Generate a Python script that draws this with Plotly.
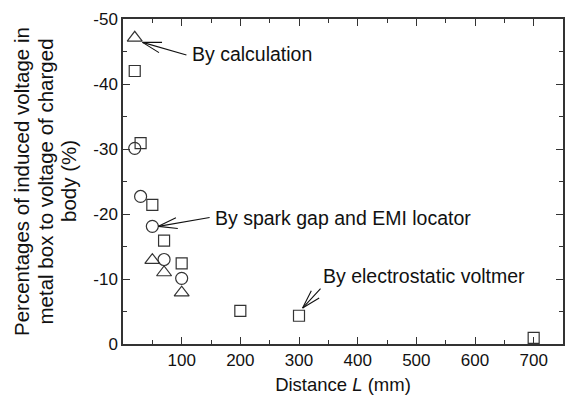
import math
import plotly.graph_objects as go

# ---- data ----
calc_L = [20, 50, 70, 100]
calc_pct = [-47.1, -12.9, -11.0, -7.9]

spark_L = [20, 30, 50, 70, 100]
spark_pct = [-30.1, -22.7, -18.1, -13.0, -10.1]

volt_L = [20, 30, 50, 70, 100, 200, 300, 700]
volt_pct = [-42.0, -30.9, -21.4, -15.9, -12.4, -5.1, -4.35, -0.95]

x_ticks = [100, 200, 300, 400, 500, 600, 700]
y_ticks = [0, -10, -20, -30, -40, -50]
y_ticktext = ["0", "-10", "-20", "-30", "-40", "-50"]

y_title_lines = ["Percentages of induced voltage in",
                 "metal box to voltage of charged",
                 "body (%)"]

FONT = "Arial, Liberation Sans, sans-serif"
EDGE = "#333333"

fig = go.Figure()

def add_series(xs, ys, symbol, size):
    fig.add_trace(go.Scatter(
        x=xs, y=ys, mode="markers", cliponaxis=False,
        marker=dict(symbol=symbol, size=size, color=EDGE,
                    line=dict(color=EDGE, width=1.2)),
        showlegend=False))

add_series(volt_L, volt_pct, "square-open", 11)
add_series(spark_L, spark_pct, "circle-open", 12)
add_series(calc_L, calc_pct, "triangle-up-open", 13)

annotations = []

def arrow(x, y, xs, ys, ax, ay, text, tx, ty):
    base = dict(x=x, y=y, xref="x", yref="y", xshift=xs, yshift=ys, text="",
                showarrow=True, arrowhead=0, arrowwidth=1.1, arrowcolor="#111",
                axref="pixel", ayref="pixel", standoff=0, startstandoff=0,
                font=dict(size=1), borderpad=0)
    annotations.append(dict(base, ax=ax, ay=ay))
    ang = math.atan2(ay, ax)
    L = 20
    for d in (math.radians(16), -math.radians(16)):
        annotations.append(dict(base, ax=L * math.cos(ang + d), ay=L * math.sin(ang + d)))
    annotations.append(dict(x=x, y=y, xref="x", yref="y", xshift=tx, yshift=ty,
                            text=text, showarrow=False, xanchor="left", yanchor="middle",
                            font=dict(family=FONT, size=19.5, color="#111")))

arrow(calc_L[0], calc_pct[0], 7.8, -4.5, 44.4, 12.7, "By calculation", 55.5, -15.9)
arrow(spark_L[2], spark_pct[2], 6.1, 0, 51.7, -9.0, "By spark gap and EMI locator", 61.1, 8.3)
arrow(volt_L[6], volt_pct[6], 3.6, 7.7, 18.4, -20.0, "By electrostatic voltmer", 22.0, 39.3)

for i, line in enumerate(y_title_lines):
    annotations.append(dict(x=0, y=0.5, xref="paper", yref="paper",
                            xshift=-101.5 + 23.5 * i, text=line, textangle=-90,
                            showarrow=False, xanchor="center", yanchor="middle",
                            font=dict(family=FONT, size=20.5, color="#111")))

axis_common = dict(showgrid=False, zeroline=False, showline=True, linecolor=EDGE,
                   linewidth=1.5, mirror="allticks", ticks="inside", ticklen=7,
                   tickwidth=1.4, tickcolor=EDGE,
                   tickfont=dict(family=FONT, size=17, color="#111"))

fig.update_layout(
    width=566, height=398,
    margin=dict(l=123, r=1, t=19, b=54),
    paper_bgcolor="white", plot_bgcolor="white",
    xaxis=dict(axis_common, range=[0, 750], tickvals=x_ticks,
               minor=dict(ticks="inside", dtick=50, ticklen=4, tickcolor=EDGE, tickwidth=1.3),
               title=dict(text="Distance <i>L</i> (mm)", standoff=9,
                          font=dict(family=FONT, size=18.5, color="#111"))),
    yaxis=dict(axis_common, range=[0, -50], tickvals=y_ticks, ticktext=y_ticktext,
               minor=dict(ticks="inside", dtick=5, ticklen=4, tickcolor=EDGE, tickwidth=1.3)),
    annotations=annotations,
)

fig.write_html("out.html")
